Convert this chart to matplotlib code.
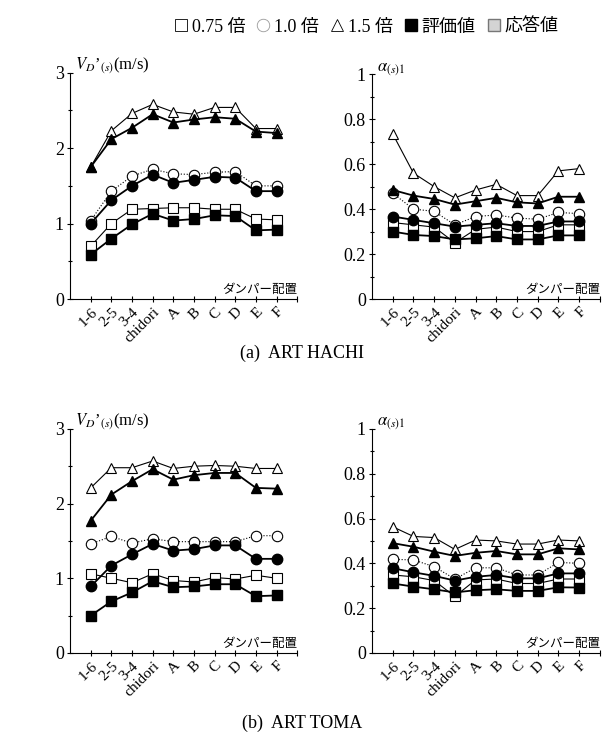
import numpy as np
import matplotlib
matplotlib.use("Agg")
import matplotlib.pyplot as plt
from matplotlib.lines import Line2D

plt.rcParams['font.family'] = ['Liberation Serif', 'Noto Sans CJK JP']
plt.rcParams['mathtext.fontset'] = 'stix'

# ダンパー配置
cats = ["1-6", "2-5", "3-4", "chidori", "A", "B", "C", "D", "E", "F"]

# (a) ART HACHI  V_D'
a_v_resp_075 = [0.70, 1.00, 1.19, 1.20, 1.21, 1.21, 1.19, 1.19, 1.06, 1.05]
a_v_eval_075 = [0.59, 0.80, 0.99, 1.13, 1.04, 1.06, 1.11, 1.10, 0.91, 0.92]
a_v_resp_10 = [1.04, 1.43, 1.63, 1.72, 1.66, 1.65, 1.68, 1.69, 1.50, 1.50]
a_v_eval_10 = [1.00, 1.31, 1.50, 1.65, 1.54, 1.58, 1.62, 1.61, 1.43, 1.43]
a_v_resp_15 = [1.75, 2.23, 2.46, 2.58, 2.48, 2.45, 2.54, 2.54, 2.26, 2.26]
a_v_eval_15 = [1.75, 2.12, 2.27, 2.45, 2.34, 2.38, 2.41, 2.39, 2.22, 2.20]

# (a) ART HACHI  alpha
a_a_resp_075 = [0.34, 0.33, 0.32, 0.25, 0.31, 0.32, 0.30, 0.30, 0.33, 0.33]
a_a_eval_075 = [0.30, 0.285, 0.28, 0.265, 0.27, 0.28, 0.265, 0.265, 0.283, 0.283]
a_a_resp_10 = [0.47, 0.40, 0.39, 0.33, 0.367, 0.374, 0.36, 0.355, 0.385, 0.38]
a_a_eval_10 = [0.367, 0.352, 0.337, 0.322, 0.33, 0.337, 0.325, 0.325, 0.345, 0.345]
a_a_resp_15 = [0.734, 0.56, 0.50, 0.45, 0.485, 0.51, 0.46, 0.46, 0.57, 0.58]
a_a_eval_15 = [0.485, 0.46, 0.445, 0.42, 0.435, 0.45, 0.43, 0.425, 0.455, 0.455]

# (b) ART TOMA  V_D'
b_v_resp_075 = [1.06, 1.00, 0.94, 1.06, 0.97, 0.95, 1.01, 0.99, 1.04, 1.00]
b_v_eval_075 = [0.50, 0.69, 0.81, 0.96, 0.88, 0.89, 0.92, 0.92, 0.76, 0.77]
b_v_resp_10 = [1.46, 1.56, 1.47, 1.53, 1.49, 1.49, 1.49, 1.49, 1.57, 1.57]
b_v_eval_10 = [0.89, 1.17, 1.32, 1.46, 1.37, 1.39, 1.44, 1.44, 1.26, 1.26]
b_v_resp_15 = [2.21, 2.48, 2.48, 2.57, 2.47, 2.50, 2.51, 2.50, 2.47, 2.47]
b_v_eval_15 = [1.77, 2.12, 2.30, 2.46, 2.32, 2.38, 2.41, 2.41, 2.21, 2.20]

# (b) ART TOMA  alpha
b_a_resp_075 = [0.348, 0.34, 0.323, 0.252, 0.326, 0.33, 0.31, 0.31, 0.33, 0.33]
b_a_eval_075 = [0.31, 0.296, 0.284, 0.27, 0.28, 0.284, 0.277, 0.277, 0.293, 0.292]
b_a_resp_10 = [0.418, 0.415, 0.385, 0.33, 0.38, 0.38, 0.348, 0.348, 0.404, 0.40]
b_a_eval_10 = [0.378, 0.36, 0.344, 0.323, 0.34, 0.348, 0.333, 0.333, 0.355, 0.355]
b_a_resp_15 = [0.563, 0.52, 0.515, 0.462, 0.504, 0.50, 0.486, 0.486, 0.504, 0.50]
b_a_eval_15 = [0.49, 0.474, 0.452, 0.433, 0.447, 0.455, 0.44, 0.44, 0.467, 0.462]

x = np.arange(1, len(cats) + 1)

fig = plt.figure(figsize=(6.04, 7.42), dpi=100)


def panel(rect, resp, evals, ymax, major, minor, ylabel):
    ax = fig.add_axes(rect)
    # 応答値（白抜き）を先に描く
    for vals, mk, ls in zip(resp, ["s", "o", "^"], ["-", ":", "-"]):
        ax.plot(x, vals, color="black", lw=0.8, ls=ls, marker=mk, ms=7.5,
                mfc="white", mec="black", mew=0.8, zorder=2)
    for vals, mk in zip(evals, ["s", "o", "^"]):
        ax.plot(x, vals, color="black", lw=1.3, marker=mk, ms=7.5,
                mfc="black", mec="black", zorder=3)
    ax.set_xlim(0, 11)
    ax.set_ylim(0, ymax)
    ax.spines["top"].set_visible(False)
    ax.spines["right"].set_visible(False)
    ax.set_xticks(x)
    ax.set_xticks([11], minor=True)
    ax.set_xticklabels(cats, rotation=45, ha="right", rotation_mode="anchor",
                       fontsize=11)
    ax.set_yticks(major)
    ax.set_yticks(minor, minor=True)
    ax.set_yticklabels([("%g" % v) for v in major], fontsize=13)
    ax.tick_params(axis="both", which="both", direction="inout", length=5,
                   width=0.8, pad=2)
    ax.tick_params(axis="y", which="minor", length=3)
    ax.text(1.0, 0.015, "ダンパー配置", transform=ax.transAxes, ha="right",
            va="bottom", fontsize=9)
    ax.text(0.02, 0.985, ylabel, transform=ax.transAxes, ha="left",
            va="bottom", fontsize=12)
    return ax


v_major = [0, 1, 2, 3]
v_minor = [0.5, 1.5, 2.5]
a_major = [0, 0.2, 0.4, 0.6, 0.8, 1]
a_minor = [0.1, 0.3, 0.5, 0.7, 0.9]
vlab = "$V_{D}$\u2019$_{(s)}$(m/s)"
alab = r"$\alpha_{(s)1}$"

panel([0.116, 0.597, 0.376, 0.305],
      [a_v_resp_075, a_v_resp_10, a_v_resp_15],
      [a_v_eval_075, a_v_eval_10, a_v_eval_15], 3, v_major, v_minor, vlab)
panel([0.616, 0.597, 0.377, 0.303],
      [a_a_resp_075, a_a_resp_10, a_a_resp_15],
      [a_a_eval_075, a_a_eval_10, a_a_eval_15], 1, a_major, a_minor, alab)
panel([0.116, 0.120, 0.376, 0.302],
      [b_v_resp_075, b_v_resp_10, b_v_resp_15],
      [b_v_eval_075, b_v_eval_10, b_v_eval_15], 3, v_major, v_minor, vlab)
panel([0.616, 0.120, 0.377, 0.302],
      [b_a_resp_075, b_a_resp_10, b_a_resp_15],
      [b_a_eval_075, b_a_eval_10, b_a_eval_15], 1, a_major, a_minor, alab)

fig.text(0.5, 1 - 353 / 742, "(a)  ART HACHI", ha="center", va="center",
         fontsize=13)
fig.text(0.5, 1 - 723 / 742, "(b)  ART TOMA", ha="center", va="center",
         fontsize=13)

# 凡例
handles = [
    Line2D([], [], ls="none", marker="s", ms=9, mfc="white", mec="black", mew=0.6),
    Line2D([], [], ls="none", marker="o", ms=9, mfc="white", mec="#999999", mew=0.6),
    Line2D([], [], ls="none", marker="^", ms=9, mfc="white", mec="black", mew=0.6),
    Line2D([], [], ls="none", marker="s", ms=9, mfc="black", mec="black"),
    Line2D([], [], ls="none", marker="s", ms=9, mfc="#d4d4d4", mec="#777777"),
]
labels = ["0.75 倍", "1.0 倍", "1.5 倍", "評価値", "応答値"]
fig.legend(handles, labels, loc="center", bbox_to_anchor=(0.606, 1 - 27 / 742),
           ncol=5, frameon=False, fontsize=13, handlelength=0.8,
           handletextpad=0.2, columnspacing=0.6)

fig.savefig("out.png", dpi=100)
